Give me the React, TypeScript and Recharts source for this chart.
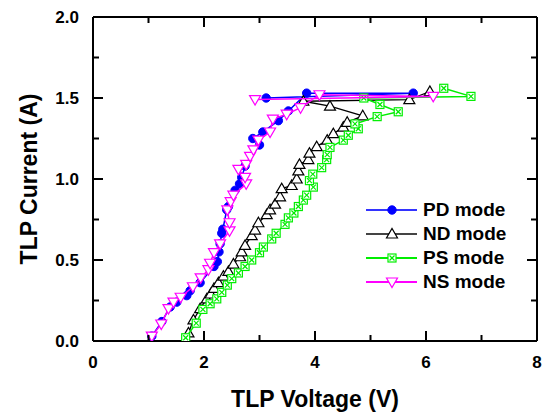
import React from "react";
import { ScatterChart, Scatter, XAxis, YAxis, Legend } from "recharts";

// TLP I-V data (V, A), in pulse order
const pdMode = [
  { x: 1.06, y: 0.03 }, { x: 1.24, y: 0.12 }, { x: 1.39, y: 0.21 }, { x: 1.51, y: 0.24 },
  { x: 1.69, y: 0.28 }, { x: 1.75, y: 0.31 }, { x: 1.93, y: 0.36 }, { x: 2.18, y: 0.46 },
  { x: 2.24, y: 0.49 }, { x: 2.27, y: 0.55 }, { x: 2.29, y: 0.6 }, { x: 2.32, y: 0.665 },
  { x: 2.34, y: 0.69 }, { x: 2.41, y: 0.81 }, { x: 2.44, y: 0.83 }, { x: 2.56, y: 0.93 },
  { x: 2.64, y: 0.97 }, { x: 2.68, y: 1.01 }, { x: 2.74, y: 1.08 }, { x: 3.0, y: 1.21 },
  { x: 2.88, y: 1.25 }, { x: 3.06, y: 1.29 }, { x: 3.34, y: 1.36 }, { x: 3.52, y: 1.42 },
  { x: 3.85, y: 1.53 }, { x: 5.77, y: 1.53 }, { x: 3.12, y: 1.5 },
];

const ndMode = [
  { x: 1.72, y: 0.05 }, { x: 1.81, y: 0.13 }, { x: 1.93, y: 0.2 }, { x: 2.05, y: 0.26 },
  { x: 2.12, y: 0.29 }, { x: 2.18, y: 0.325 }, { x: 2.26, y: 0.36 }, { x: 2.35, y: 0.4 },
  { x: 2.44, y: 0.43 }, { x: 2.53, y: 0.475 }, { x: 2.65, y: 0.52 }, { x: 2.68, y: 0.55 },
  { x: 2.74, y: 0.59 }, { x: 2.86, y: 0.65 }, { x: 2.92, y: 0.685 }, { x: 2.98, y: 0.73 },
  { x: 3.13, y: 0.78 }, { x: 3.19, y: 0.81 }, { x: 3.28, y: 0.845 }, { x: 3.37, y: 0.89 },
  { x: 3.4, y: 0.94 }, { x: 3.58, y: 0.96 }, { x: 3.67, y: 1.0 }, { x: 3.7, y: 1.05 },
  { x: 3.72, y: 1.09 }, { x: 3.88, y: 1.12 }, { x: 3.9, y: 1.16 }, { x: 4.03, y: 1.2 },
  { x: 4.22, y: 1.24 }, { x: 4.33, y: 1.28 }, { x: 4.51, y: 1.32 }, { x: 4.58, y: 1.35 },
  { x: 4.86, y: 1.39 }, { x: 4.27, y: 1.45 }, { x: 3.79, y: 1.48 }, { x: 5.7, y: 1.49 },
  { x: 6.07, y: 1.54 },
];

const psMode = [
  { x: 1.67, y: 0.02 }, { x: 1.86, y: 0.11 }, { x: 1.98, y: 0.195 }, { x: 2.11, y: 0.23 },
  { x: 2.23, y: 0.26 }, { x: 2.32, y: 0.3 }, { x: 2.42, y: 0.345 }, { x: 2.5, y: 0.385 },
  { x: 2.62, y: 0.42 }, { x: 2.74, y: 0.46 }, { x: 2.86, y: 0.5 }, { x: 3.0, y: 0.545 },
  { x: 3.07, y: 0.58 }, { x: 3.22, y: 0.63 }, { x: 3.3, y: 0.665 }, { x: 3.46, y: 0.72 },
  { x: 3.52, y: 0.76 }, { x: 3.62, y: 0.79 }, { x: 3.7, y: 0.83 }, { x: 3.79, y: 0.87 },
  { x: 3.85, y: 0.9 }, { x: 3.97, y: 0.95 }, { x: 3.9, y: 0.99 }, { x: 3.96, y: 1.03 },
  { x: 4.12, y: 1.07 }, { x: 4.21, y: 1.12 }, { x: 4.22, y: 1.15 }, { x: 4.27, y: 1.195 },
  { x: 4.51, y: 1.24 }, { x: 4.6, y: 1.27 }, { x: 4.78, y: 1.31 }, { x: 4.72, y: 1.34 },
  { x: 5.12, y: 1.385 }, { x: 5.5, y: 1.415 }, { x: 5.17, y: 1.46 }, { x: 4.88, y: 1.5 },
  { x: 6.81, y: 1.51 }, { x: 6.32, y: 1.56 },
];

const nsMode = [
  { x: 1.06, y: 0.03 }, { x: 1.23, y: 0.105 }, { x: 1.36, y: 0.2 }, { x: 1.45, y: 0.24 },
  { x: 1.58, y: 0.27 }, { x: 1.8, y: 0.335 }, { x: 1.94, y: 0.39 }, { x: 2.08, y: 0.44 },
  { x: 2.11, y: 0.48 }, { x: 2.18, y: 0.545 }, { x: 2.29, y: 0.6 }, { x: 2.46, y: 0.68 },
  { x: 2.46, y: 0.73 }, { x: 2.42, y: 0.81 }, { x: 2.48, y: 0.86 }, { x: 2.53, y: 0.9 },
  { x: 2.76, y: 0.97 }, { x: 2.74, y: 1.01 }, { x: 2.62, y: 1.06 }, { x: 2.76, y: 1.09 },
  { x: 2.83, y: 1.14 }, { x: 2.89, y: 1.18 }, { x: 2.98, y: 1.24 }, { x: 3.19, y: 1.29 },
  { x: 3.24, y: 1.37 }, { x: 3.49, y: 1.4 }, { x: 3.74, y: 1.44 }, { x: 4.08, y: 1.52 },
  { x: 6.13, y: 1.51 }, { x: 2.92, y: 1.49 },
];

const legendOrder = ["PD mode", "ND mode", "PS mode", "NS mode"];
const xTicks = [0, 1, 2, 3, 4, 5, 6, 7, 8];
const yTicks = [0, 0.25, 0.5, 0.75, 1, 1.25, 1.5, 1.75, 2];

const FONT = "'Liberation Sans', Arial, Helvetica, sans-serif";
const BLUE = "#0000ff";
const GREEN = "#00ee00";
const MAGENTA = "#ff00ff";

function Dot({ cx, cy, color }: any) {
  return <circle cx={cx} cy={cy} r={4.2} fill={color} stroke={color} />;
}

function TriUp({ cx, cy, color }: any) {
  return (
    <polygon
      points={`${cx - 5.5},${cy + 4} ${cx + 5.5},${cy + 4} ${cx},${cy - 5.5}`}
      fill="#fff"
      stroke={color}
      strokeWidth={1.2}
    />
  );
}

function TriDown({ cx, cy, color }: any) {
  return (
    <polygon
      points={`${cx - 5.5},${cy - 4} ${cx + 5.5},${cy - 4} ${cx},${cy + 5.5}`}
      fill="#fff"
      stroke={color}
      strokeWidth={1.2}
    />
  );
}

function BoxX({ cx, cy, color }: any) {
  const h = 4;
  return (
    <g stroke={color} strokeWidth={1.2} fill="#fff">
      <rect x={cx - h} y={cy - h} width={2 * h} height={2 * h} />
      <line x1={cx - h + 1.5} y1={cy - h + 1.5} x2={cx + h - 1.5} y2={cy + h - 1.5} />
      <line x1={cx - h + 1.5} y1={cy + h - 1.5} x2={cx + h - 1.5} y2={cy - h + 1.5} />
    </g>
  );
}

const seriesStyle: Record<string, { color: string; line: string; Shape: any }> = {
  "PD mode": { color: BLUE, line: "#3333ff", Shape: Dot },
  "ND mode": { color: "#000", line: "#444", Shape: TriUp },
  "PS mode": { color: GREEN, line: GREEN, Shape: BoxX },
  "NS mode": { color: MAGENTA, line: MAGENTA, Shape: TriDown },
};

function BottomTick({ x, y, payload }: any) {
  const major = payload.value % 2 === 0;
  return (
    <g>
      <line x1={x} y1={y} x2={x} y2={y - (major ? 10 : 6)} stroke="#000" strokeWidth={2} />
      {major && (
        <text x={x} y={y + 27} textAnchor="middle" fontFamily={FONT} fontWeight="bold" fontSize={17} fill="#000">
          {payload.value}
        </text>
      )}
    </g>
  );
}

function TopTick({ x, y, payload }: any) {
  const major = payload.value % 2 === 0;
  return <line x1={x} y1={y} x2={x} y2={y + (major ? 10 : 6)} stroke="#000" strokeWidth={2} />;
}

function LeftTick({ x, y, payload }: any) {
  const major = Math.abs(payload.value * 2 - Math.round(payload.value * 2)) < 1e-6;
  return (
    <g>
      <line x1={x} y1={y} x2={x + (major ? 10 : 6)} y2={y} stroke="#000" strokeWidth={2} />
      {major && (
        <text x={x - 14} y={y + 6} textAnchor="end" fontFamily={FONT} fontWeight="bold" fontSize={17} fill="#000">
          {payload.value.toFixed(1)}
        </text>
      )}
    </g>
  );
}

function RightTick({ x, y, payload }: any) {
  const major = Math.abs(payload.value * 2 - Math.round(payload.value * 2)) < 1e-6;
  return <line x1={x} y1={y} x2={x - (major ? 10 : 6)} y2={y} stroke="#000" strokeWidth={2} />;
}

function XTitle({ viewBox }: any) {
  const { x, y, width } = viewBox;
  return (
    <text x={x + width / 2} y={y + 66} textAnchor="middle" fontFamily={FONT} fontWeight="bold" fontSize={23} fill="#000">
      TLP Voltage (V)
    </text>
  );
}

function YTitle({ viewBox }: any) {
  const { y, height } = viewBox;
  const cx = 37;
  const cy = y + height / 2;
  return (
    <text
      x={cx}
      y={cy}
      transform={`rotate(-90 ${cx} ${cy})`}
      textAnchor="middle"
      fontFamily={FONT}
      fontWeight="bold"
      fontSize={23}
      fill="#000"
    >
      TLP Current (A)
    </text>
  );
}

function LegendBox({ payload }: any) {
  const items = [...(payload || [])].sort(
    (a: any, b: any) => legendOrder.indexOf(a.value) - legendOrder.indexOf(b.value)
  );
  return (
    <div style={{ fontFamily: FONT }}>
      {items.map((p: any) => {
        const s = seriesStyle[p.value];
        if (!s) return null;
        const { Shape } = s;
        return (
          <div key={p.value} style={{ display: "flex", alignItems: "center", height: 24 }}>
            <svg width={57} height={20} style={{ display: "block" }}>
              <line x1={0} y1={10} x2={51} y2={10} stroke={s.line} strokeWidth={2} />
              <Shape cx={26} cy={10} color={s.color} />
            </svg>
            <span style={{ fontSize: 19, fontWeight: "bold", color: "#000", lineHeight: "24px" }}>{p.value}</span>
          </div>
        );
      })}
    </div>
  );
}

export default function App() {
  return (
    <div style={{ position: "absolute", left: 0, top: 0, width: 542, height: 413, background: "#fff" }}>
      <ScatterChart width={542} height={413} margin={{ top: 16, right: 4, bottom: 0, left: 0 }}>
        <XAxis
          type="number"
          dataKey="x"
          domain={[0, 8]}
          ticks={xTicks}
          interval={0}
          height={72}
          tickSize={0}
          tickMargin={0}
          tickLine={false}
          axisLine={{ stroke: "#000", strokeWidth: 2 }}
          tick={<BottomTick />}
          label={<XTitle />}
          allowDataOverflow
        />
        <XAxis
          xAxisId="top"
          orientation="top"
          type="number"
          dataKey="x"
          domain={[0, 8]}
          ticks={xTicks}
          interval={0}
          height={1}
          tickSize={0}
          tickMargin={0}
          tickLine={false}
          axisLine={{ stroke: "#000", strokeWidth: 2 }}
          tick={<TopTick />}
          allowDataOverflow
        />
        <YAxis
          type="number"
          dataKey="y"
          domain={[0, 2]}
          ticks={yTicks}
          interval={0}
          width={93}
          tickSize={0}
          tickMargin={0}
          tickLine={false}
          axisLine={{ stroke: "#000", strokeWidth: 2 }}
          tick={<LeftTick />}
          label={<YTitle />}
          allowDataOverflow
        />
        <YAxis
          yAxisId="right"
          orientation="right"
          type="number"
          dataKey="y"
          domain={[0, 2]}
          ticks={yTicks}
          interval={0}
          width={1}
          tickSize={0}
          tickMargin={0}
          tickLine={false}
          axisLine={{ stroke: "#000", strokeWidth: 2 }}
          tick={<RightTick />}
          allowDataOverflow
        />
        <Legend
          layout="vertical"
          align="center"
          verticalAlign="middle"
          content={<LegendBox />}
          wrapperStyle={{ position: "absolute", left: 366, top: 198, width: 150 }}
        />
        <Scatter
          name="PD mode"
          data={pdMode}
          fill={BLUE}
          line={{ stroke: BLUE, strokeWidth: 1.5 }}
          shape={(p: any) => <Dot {...p} color={BLUE} />}
          isAnimationActive={false}
        />
        <Scatter
          name="ND mode"
          data={ndMode}
          fill="#000"
          line={{ stroke: "#000", strokeWidth: 1.3 }}
          shape={(p: any) => <TriUp {...p} color="#000" />}
          isAnimationActive={false}
        />
        <Scatter
          name="PS mode"
          data={psMode}
          fill={GREEN}
          line={{ stroke: GREEN, strokeWidth: 1.5 }}
          shape={(p: any) => <BoxX {...p} color={GREEN} />}
          isAnimationActive={false}
        />
        <Scatter
          name="NS mode"
          data={nsMode}
          fill={MAGENTA}
          line={{ stroke: MAGENTA, strokeWidth: 1.5 }}
          shape={(p: any) => <TriDown {...p} color={MAGENTA} />}
          isAnimationActive={false}
        />
      </ScatterChart>
    </div>
  );
}
